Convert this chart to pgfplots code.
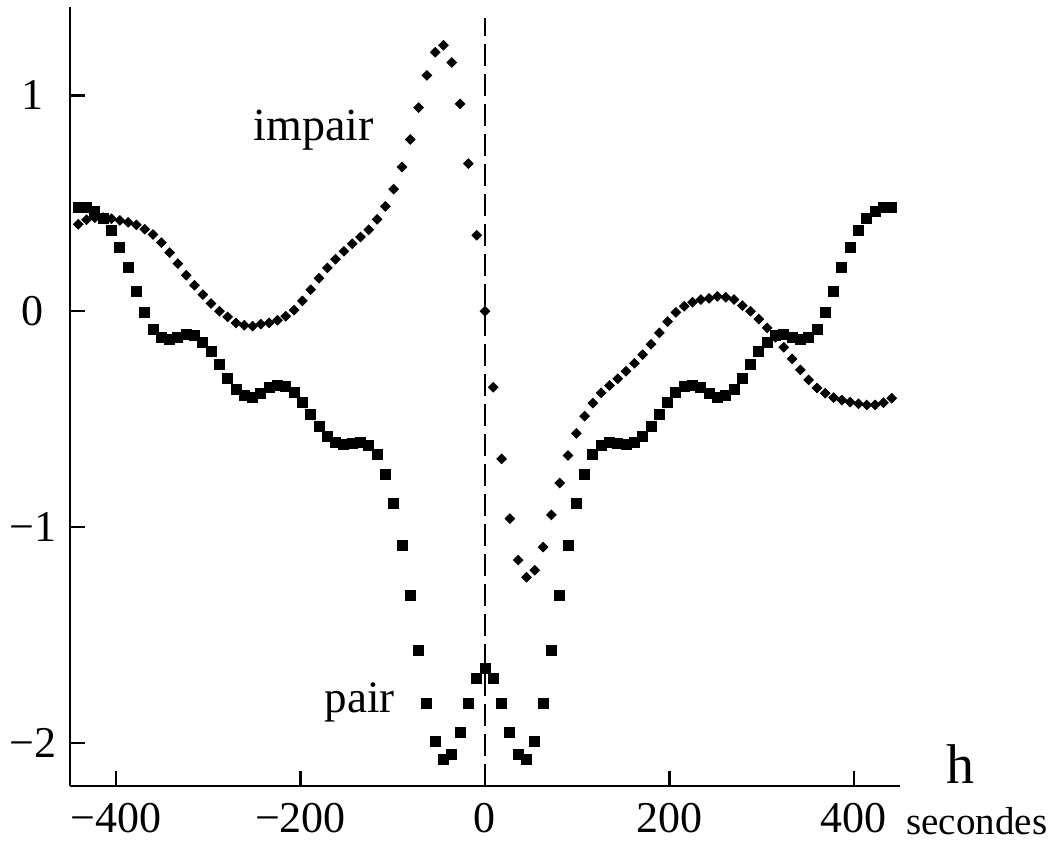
\documentclass[border=0pt]{standalone}
\usepackage{fontspec}
\setmainfont{Liberation Serif}
\usepackage{pgfplots}
\usepackage{pgfplotstable}
\pgfplotsset{compat=1.18}

% x (s), pair (even), impair (odd)
\pgfplotstableread{
x pair impair
-441 0.480 0.403
-432 0.483 0.424
-423 0.464 0.434
-414 0.432 0.434
-405 0.375 0.429
-396 0.298 0.421
-387 0.202 0.412
-378 0.094 0.400
-369 -0.006 0.380
-360 -0.082 0.356
-351 -0.122 0.318
-342 -0.131 0.272
-333 -0.119 0.221
-324 -0.108 0.167
-315 -0.113 0.120
-306 -0.144 0.077
-297 -0.187 0.036
-288 -0.244 0.000
-279 -0.309 -0.026
-270 -0.361 -0.054
-261 -0.392 -0.065
-252 -0.400 -0.069
-243 -0.381 -0.060
-234 -0.353 -0.054
-225 -0.343 -0.042
-216 -0.350 -0.023
-207 -0.375 0.005
-198 -0.423 0.048
-189 -0.478 0.100
-180 -0.534 0.153
-171 -0.579 0.201
-162 -0.610 0.241
-153 -0.617 0.278
-144 -0.611 0.313
-135 -0.606 0.344
-126 -0.620 0.378
-117 -0.664 0.426
-108 -0.755 0.486
-99 -0.890 0.566
-90 -1.085 0.668
-81 -1.319 0.796
-72 -1.573 0.944
-63 -1.816 1.093
-54 -1.994 1.200
-45 -2.075 1.233
-36 -2.052 1.153
-27 -1.950 0.961
-18 -1.816 0.684
-9 -1.700 0.352
0 -1.657 0.000
9 -1.700 -0.352
18 -1.816 -0.684
27 -1.950 -0.961
36 -2.052 -1.153
45 -2.075 -1.233
54 -1.994 -1.200
63 -1.816 -1.093
72 -1.573 -0.944
81 -1.319 -0.796
90 -1.085 -0.668
99 -0.890 -0.566
108 -0.755 -0.486
117 -0.664 -0.426
126 -0.620 -0.378
135 -0.606 -0.344
144 -0.611 -0.313
153 -0.617 -0.278
162 -0.610 -0.241
171 -0.579 -0.201
180 -0.534 -0.153
189 -0.478 -0.100
198 -0.423 -0.048
207 -0.375 -0.005
216 -0.350 0.023
225 -0.343 0.042
234 -0.353 0.054
243 -0.381 0.060
252 -0.400 0.069
261 -0.392 0.065
270 -0.361 0.054
279 -0.309 0.026
288 -0.244 0.000
297 -0.187 -0.036
306 -0.144 -0.077
315 -0.113 -0.120
324 -0.108 -0.167
333 -0.119 -0.221
342 -0.131 -0.272
351 -0.122 -0.318
360 -0.082 -0.356
369 -0.006 -0.380
378 0.094 -0.400
387 0.202 -0.412
396 0.298 -0.421
405 0.375 -0.429
414 0.432 -0.434
423 0.464 -0.434
432 0.483 -0.424
441 0.480 -0.403
}\data

\begin{document}
\begin{tikzpicture}
\useasboundingbox (-35bp,-29bp) rectangle (492.5bp,393bp);
\begin{axis}[
  at={(0,0)},anchor=south west,
  scale only axis,
  width=415bp,height=389.5bp,
  xmin=-450,xmax=450,ymin=-2.2,ymax=1.41,
  axis lines*=left,
  tick pos=left,
  tick align=inside,
  major tick length=7.5bp,
  axis line style={line width=1.2bp},
  tick style={line width=1.2bp,black},
  xtick={-400,-200,0,200,400},
  xticklabels={−400,−200,0,200,400},
  ytick={-2,-1,0,1},
  yticklabels={−2,−1,0,1},
  tick label style={font=\fontsize{22bp}{26bp}\selectfont},
  xticklabel style={anchor=center,yshift=-16bp},
  yticklabel style={anchor=center,xshift=-18.5bp},
  clip=false,
]
\addplot[black,line width=0.6bp,dash pattern=on 11bp off 4bp]
  coordinates {(0,-2.2)(0,1.36)};
\addplot[only marks,mark=square*,mark size=2.5bp,black]
  table[x=x,y=pair] {\data};
\addplot[only marks,mark=square*,mark size=1.7bp,black,mark options={rotate=45}]
  table[x=x,y=impair] {\data};
\node[anchor=base,font=\fontsize{23bp}{27bp}\selectfont] at (axis cs:-186,0.79) {impair};
\node[anchor=base,font=\fontsize{22.5bp}{27bp}\selectfont] at (axis cs:-136,-1.86) {pair};
\end{axis}
\node[anchor=base,inner sep=0pt,font=\fontsize{28bp}{32bp}\selectfont] at (445bp,1.5bp) {h};
\node[anchor=base west,inner sep=0pt,font=\fontsize{19.5bp}{23bp}\selectfont] at (418bp,-24bp) {secondes};
\end{tikzpicture}
\end{document}
